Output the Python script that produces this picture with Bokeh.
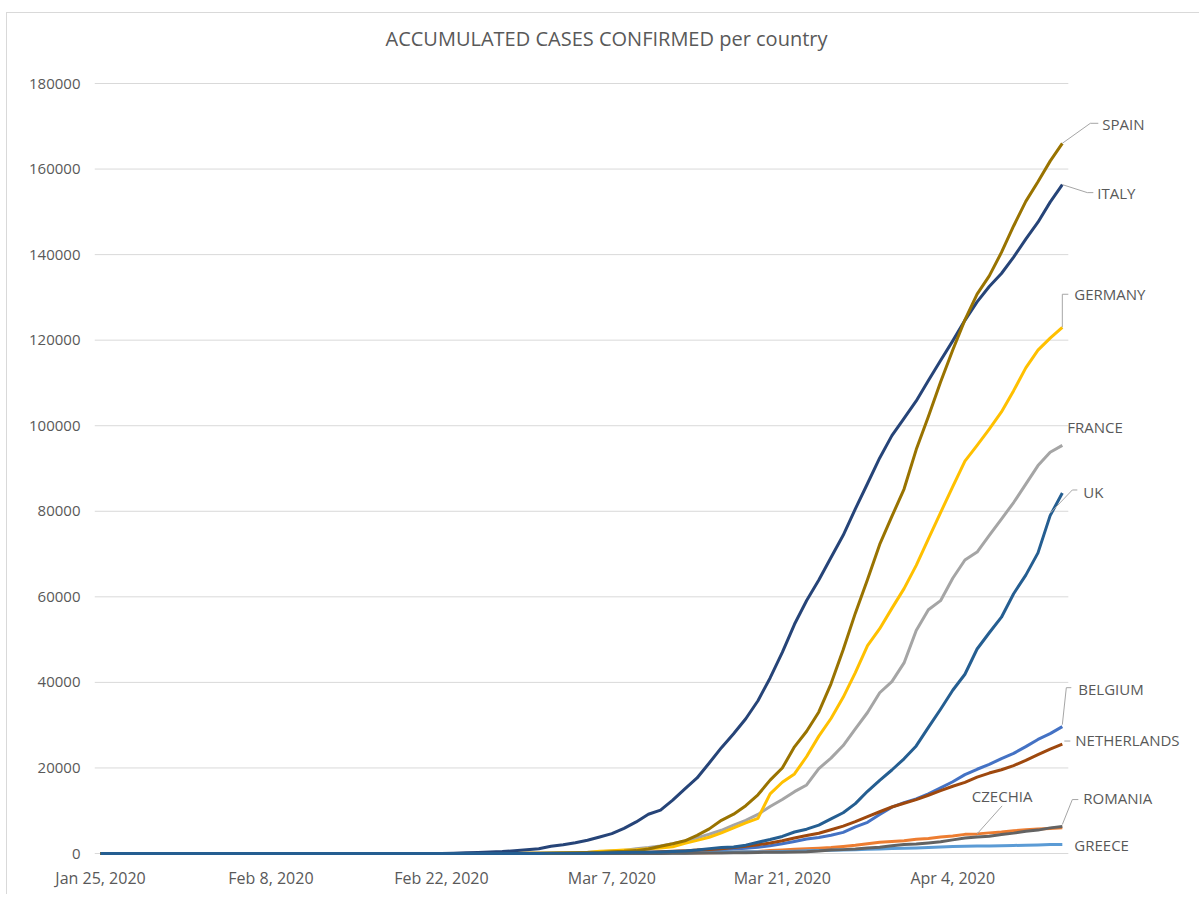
import pandas as pd
from bokeh.plotting import figure
from bokeh.models import Range1d, FixedTicker, CustomJSTickFormatter, BasicTickFormatter, Label
from bokeh.embed import file_html
from bokeh.resources import INLINE

# ---------------- data ----------------
dates = pd.date_range("2020-01-25", "2020-04-13", freq="D")

belgium = [0, 0, 0, 0, 0, 0, 0, 0, 0, 0, 0,
           1, 1, 1, 1, 1, 1, 1, 1, 1, 1, 1, 1, 1, 1, 1, 1, 1, 1, 1, 1, 1, 1, 1, 1, 1,
           1, 2, 8, 13, 23, 50, 109, 169, 200, 239, 267, 314, 314, 559, 689, 886, 1058, 1243, 1486, 1795,
           2257, 2815, 3401, 3743, 4269, 4937, 6235, 7284, 9134, 10836, 11899,
           12775, 13964, 15348, 16770, 18431, 19691, 20814, 22194, 23403, 24983, 26667, 28018, 29647]

czechia = [0, 0, 0, 0, 0, 0, 0, 0, 0, 0, 0, 0, 0, 0, 0, 0, 0, 0,
           0, 0, 0, 0, 0, 0, 0, 0, 0, 0, 0, 0, 0, 0, 0, 0, 0, 0,
           0, 3, 3, 5, 5, 8, 19, 26, 32, 38, 63, 94, 116, 141, 189, 253, 298, 396, 464, 694,
           833, 995, 1120, 1236, 1394, 1654, 1925, 2279, 2631, 2817, 3001,
           3308, 3508, 3858, 4091, 4472, 4587, 4822, 5017, 5312, 5569, 5732, 5831, 5991]

france = [3, 3, 3, 3, 4, 5, 5,
          6, 6, 6, 6, 6, 6, 6, 6, 11, 11, 11, 11, 11, 11, 11,
          12, 12, 12, 12, 12, 12, 12, 12, 12, 12, 14, 18, 38, 57,
          100, 130, 191, 212, 285, 423, 613, 716, 1126, 1412, 1784, 2281, 2876, 3661, 4499, 5423,
          6633, 7730, 9134, 10995, 12612, 14459, 16018, 19856, 22302, 25233, 29155, 32964, 37575, 40174, 44550,
          52128, 56989, 59105, 64338, 68605, 70478, 74390, 78167, 82048, 86334, 90676, 93790, 95403]

germany = [0, 0, 0, 1, 4, 4, 4,
           5, 8, 10, 12, 12, 12, 12, 13, 13, 14, 14, 16,
           16, 16, 16, 16, 16, 16, 16, 16, 16, 16, 16, 16, 16, 18, 21, 26, 48,
           57, 129, 157, 196, 262, 534, 639, 795, 902, 1139, 1296, 1567, 2369, 3062, 3795, 4838,
           6012, 7156, 8198, 13957, 16662, 18610, 22672, 27436, 31554, 36508, 42288, 48582, 52547, 57298, 61913,
           67366, 73522, 79696, 85778, 91714, 95391, 99225, 103228, 108202, 113525, 117658, 120479, 123016]

greece = [0, 0, 0, 0, 0, 0, 0, 0, 0, 0, 0, 0, 0, 0, 0, 0, 0, 0,
          0, 0, 0, 0, 0, 0, 0, 0, 0, 0, 0, 0, 0, 0, 0, 1, 3, 4,
          4, 7, 7, 7, 9, 31, 45, 46, 73, 73, 89, 99, 99, 190, 228, 331, 331, 387, 418, 418,
          495, 530, 624, 695, 743, 821, 892, 966, 1061, 1156, 1212,
          1314, 1415, 1544, 1613, 1673, 1735, 1755, 1832, 1884, 1955, 2011, 2081, 2114]

italy = [0, 0, 0, 0, 0, 0, 2,
         2, 2, 2, 2, 2, 2, 3, 3, 3, 3, 3, 3, 3, 3, 3, 3, 3, 3, 3, 3, 3,
         20, 62, 155, 229, 322, 453, 655, 888,
         1128, 1694, 2036, 2502, 3089, 3858, 4636, 5883, 7375, 9172, 10149, 12462, 15113, 17660, 21157, 24747,
         27980, 31506, 35713, 41035, 47021, 53578, 59138, 63927, 69176, 74386, 80589, 86498, 92472, 97689, 101739,
         105792, 110574, 115242, 119827, 124632, 128948, 132547, 135586, 139422, 143626, 147577, 152271, 156363]

netherlands = [0, 0, 0, 0, 0, 0, 0, 0, 0, 0, 0, 0, 0, 0, 0, 0, 0, 0,
               0, 0, 0, 0, 0, 0, 0, 0, 0, 0, 0, 0, 0, 0, 0, 0, 1, 1,
               6, 10, 18, 24, 38, 82, 128, 188, 265, 321, 382, 503, 614, 804, 959, 1135, 1413, 1705, 2051, 2460,
               2994, 3631, 4204, 4749, 5560, 6412, 7431, 8603, 9762, 10866, 11750,
               12595, 13614, 14697, 15723, 16627, 17851, 18803, 19580, 20549, 21762, 23097, 24413, 25587]

romania = [0, 0, 0, 0, 0, 0, 0, 0, 0, 0, 0, 0, 0, 0, 0, 0, 0, 0,
           0, 0, 0, 0, 0, 0, 0, 0, 0, 0, 0, 0, 0, 0, 0, 1, 1, 3,
           3, 3, 3, 4, 4, 6, 9, 9, 15, 15, 25, 45, 49, 89, 123, 131, 158, 184, 260, 277,
           308, 367, 433, 576, 794, 906, 1029, 1292, 1452, 1815, 2109,
           2245, 2460, 2738, 3183, 3613, 3864, 4057, 4417, 4761, 5202, 5467, 5990, 6300]

spain = [0, 0, 0, 0, 0, 0, 0,
         1, 1, 1, 1, 1, 1, 1, 1, 1,
         2, 2, 2, 2, 2, 2, 2, 2, 2, 2, 2, 2, 2, 2, 2,
         2, 6, 13, 15, 32,
         45, 84, 120, 165, 222, 259, 400, 500, 673, 1073, 1695, 2277, 2965, 4231, 5753, 7753,
         9191, 11178, 13716, 17147, 19980, 24926, 28572, 33089, 39673, 47610, 56188, 64059, 72248, 78797, 85195,
         94417, 102136, 110238, 117710, 124736, 130759, 135032, 140510, 146690, 152446, 157022, 161852, 166019]

uk = [0, 0, 0, 0, 0, 0, 0,
      2, 2, 2, 2, 2, 2, 2, 3, 3, 3, 8, 9,
      9, 9, 9, 9, 9, 9, 9, 9, 9, 9, 9, 9, 9, 9, 13, 13, 20,
      23, 36, 40, 51, 85, 115, 163, 206, 273, 321, 373, 456, 590, 798, 1140, 1391,
      1543, 1950, 2626, 3269, 3983, 5018, 5683, 6650, 8077, 9529, 11658, 14543, 17089, 19522, 22141,
      25150, 29474, 33718, 38168, 41903, 47806, 51608, 55242, 60733, 65077, 70272, 78991, 84279]

names = ["BELGIUM", "CZECHIA", "FRANCE", "GERMANY", "GREECE",
         "ITALY", "NETHERLANDS", "ROMANIA", "SPAIN", "UK"]
series = [belgium, czechia, france, germany, greece, italy, netherlands, romania, spain, uk]
colors = ["#4472C4", "#ED7D31", "#A5A5A5", "#FFC000", "#5B9BD5",
          "#264478", "#9E480E", "#636363", "#997300", "#255E91"]

x_tick_dates = ["2020-01-25", "2020-02-08", "2020-02-22", "2020-03-07", "2020-03-21", "2020-04-04"]
x_tick_labels = ["Jan 25, 2020", "Feb 8, 2020", "Feb 22, 2020", "Mar 7, 2020", "Mar 21, 2020", "Apr 4, 2020"]
y_ticks = [0, 20000, 40000, 60000, 80000, 100000, 120000, 140000, 160000, 180000]

title_text = "ACCUMULATED CASES CONFIRMED per country"

# ---------------- geometry helpers (page pixel coordinates) ----------------
DAY = 86400000
xs = [int(d.value // 10**6) for d in dates]
tick_ms = [int(pd.Timestamp(d).value // 10**6) for d in x_tick_dates]

PX_DAY = 12.175          # pixels per day
PX_UNIT = 770 / 180000   # pixels per case


def dx(px):
    return px / PX_DAY * DAY


def dy(px):
    return px / PX_UNIT


OX, OY = 7, 13                 # canvas origin on the page (inside the chart border)
F_LEFT, F_RIGHT = 94, 1195     # frame edges (page px)
F_TOP, F_BOTTOM = OY, 857
X0_PX = 100     # page x of first date
Y0_PX = 853     # page y of value 0
W = 1193
H = 882

x_start = xs[0] - dx(X0_PX - F_LEFT)
x_end = x_start + dx(F_RIGHT - F_LEFT)
y_end = dy(Y0_PX - F_TOP)
y_start = -dy(F_BOTTOM - Y0_PX)


def cx(px):
    return xs[0] + dx(px - X0_PX)


def cy(px):
    return dy(Y0_PX - px)


TXT = "#595959"
FONT = "Open Sans"

p = figure(width=W, height=H, output_backend="svg", toolbar_location=None,
           x_range=Range1d(x_start, x_end), y_range=Range1d(y_start, y_end),
           min_border_left=F_LEFT - OX, min_border_right=OX + W - F_RIGHT,
           min_border_top=0, min_border_bottom=OY + H - F_BOTTOM,
           margin=(OY - 1, 0, 0, OX - 1),
           styles={"border-left": "1px solid #d9d9d9", "border-top": "1px solid #d9d9d9"})
p.outline_line_color = None
p.grid.visible = False
p.background_fill_color = "white"
p.border_fill_color = "white"

p.xaxis.ticker = FixedTicker(ticks=tick_ms)
p.xaxis.formatter = CustomJSTickFormatter(
    args=dict(tvals=tick_ms, tlabels=x_tick_labels),
    code="const i = tvals.indexOf(tick); return i >= 0 ? tlabels[i] : '';")
p.yaxis.ticker = FixedTicker(ticks=y_ticks)
p.yaxis.formatter = BasicTickFormatter(use_scientific=False)
for ax in p.axis:
    ax.axis_line_color = None
    ax.major_tick_line_color = None
    ax.minor_tick_line_color = None
    ax.major_tick_out = 0
    ax.major_label_text_font = FONT
    ax.major_label_text_color = TXT
p.xaxis.major_label_text_font_size = "16px"
p.yaxis.major_label_text_font_size = "15px"
p.xaxis.major_label_standoff = 9
p.yaxis.major_label_standoff = 14

# horizontal gridlines (stop at the end of the date range)
g_x1 = xs[-1] + dx(6)
p.segment(x0=[x_start] * len(y_ticks), y0=y_ticks, x1=[g_x1] * len(y_ticks), y1=y_ticks,
          line_color="#d9d9d9", line_width=1)

for s, c in zip(series, colors):
    p.line(xs, s, line_color=c, line_width=3, line_join="round")

# data labels with leader lines (offsets in px, y downward, from last point)
label_specs = {
    "SPAIN": ([(0, 0), (28, -20), (36, -20)], (40, -19)),
    "ITALY": ([(0, 0), (25, 8), (31, 8)], (35, 8)),
    "GERMANY": ([(0, 0), (0, -33), (6, -33)], (12, -33)),
    "FRANCE": ([], (5, -18)),
    "UK": ([(-12, 20), (10, -3), (15, -3)], (21, -1)),
    "BELGIUM": ([(0, -2), (4, -39), (9, -39)], (16, -38)),
    "NETHERLANDS": ([(2, -3), (8, -3)], (13, -4)),
    "ROMANIA": ([(0, -2), (10, -27), (16, -27)], (21, -29)),
    "GREECE": ([], (12, 1)),
}
for name, s in zip(names, series):
    if name == "CZECHIA":
        continue
    lead, (tx, ty) = label_specs[name]
    x0, y0 = xs[-1], s[-1]
    if lead:
        p.line([x0 + dx(a) for a, b in lead], [y0 - dy(b) for a, b in lead],
               line_color="#a6a6a6", line_width=1)
    p.add_layout(Label(x=x0 + dx(tx), y=y0 - dy(ty), text=name, text_font=FONT,
                       text_font_size="15px", text_color=TXT,
                       text_align="left", text_baseline="middle"))

# CZECHIA label points into the line at Apr 6
ci = list(dates).index(pd.Timestamp("2020-04-06"))
czx, czy = xs[ci], czechia[ci]
p.line([czx, czx + dx(25)], [czy, czy - dy(-28)], line_color="#a6a6a6", line_width=1)
p.add_layout(Label(x=czx + dx(25), y=czy - dy(-38), text="CZECHIA", text_font=FONT,
                   text_font_size="15px", text_color=TXT,
                   text_align="center", text_baseline="middle"))

# title
p.add_layout(Label(x=cx(606), y=cy(38), text=title_text, text_font=FONT,
                   text_font_size="20px", text_color=TXT,
                   text_align="center", text_baseline="middle"))

open("out.html", "w").write(file_html(p, INLINE))
